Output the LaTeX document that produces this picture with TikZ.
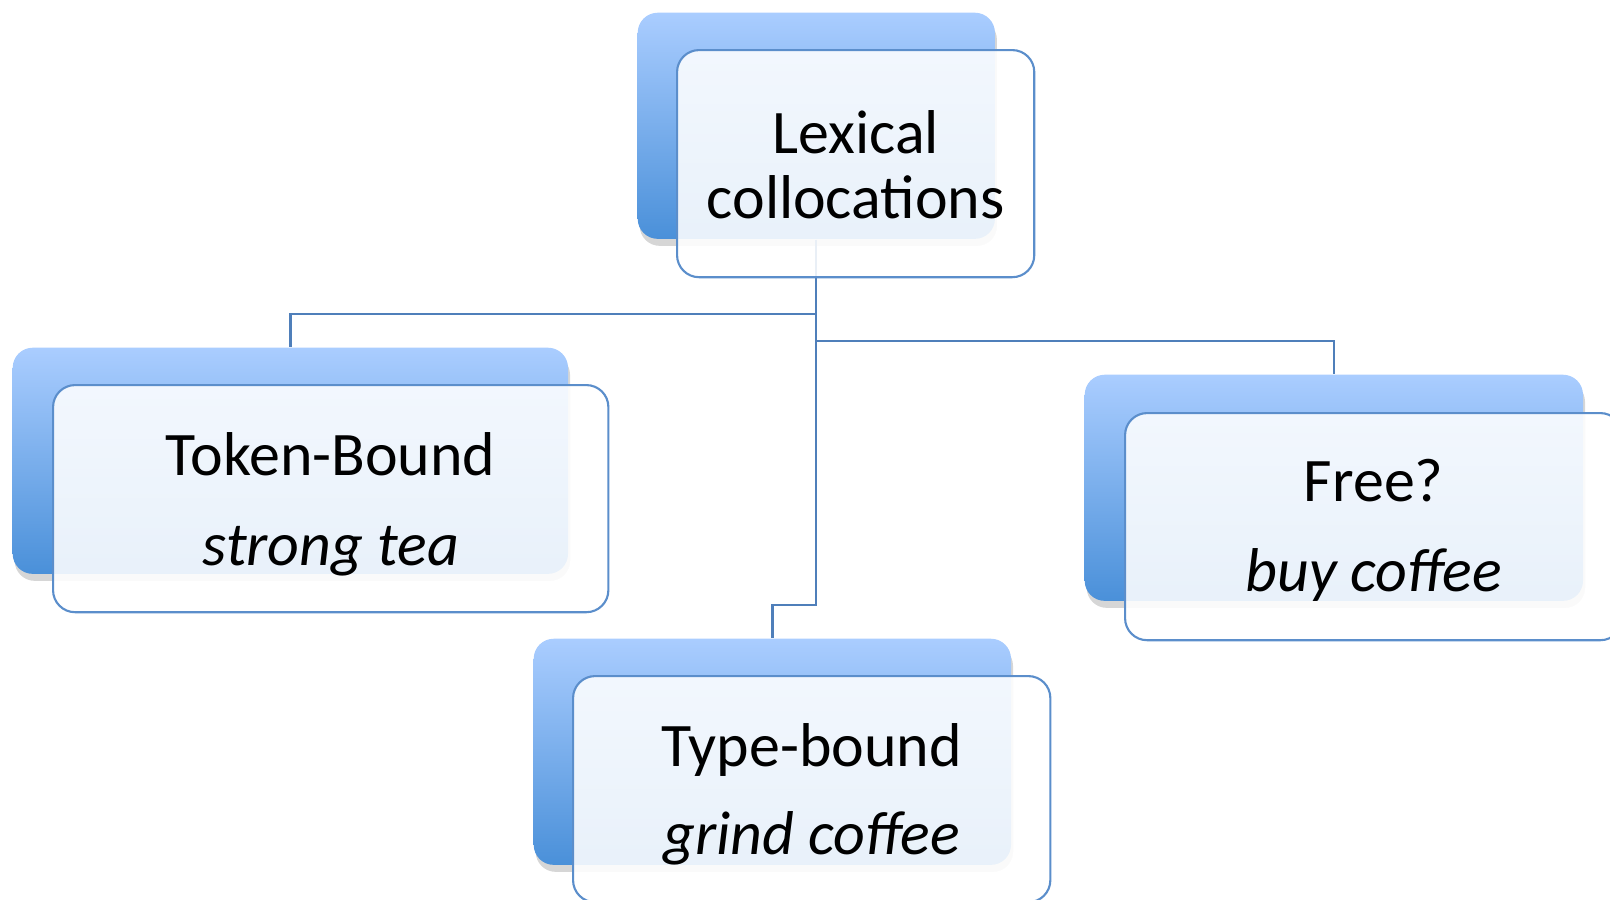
\documentclass[tikz,border=0pt]{standalone}
\usepackage{fontspec}
\setmainfont{Carlito}
\usetikzlibrary{positioning,shadows}
\definecolor{linkblue}{HTML}{4F7FBA}
\definecolor{edgeblue}{HTML}{5B8ECB}
\definecolor{backtop}{HTML}{AACDFF}
\definecolor{backbot}{HTML}{4A90D9}
\tikzset{
  backbox/.style={rounded corners=2mm, top color=backtop, bottom color=backbot, draw=none, inner sep=0pt,
    drop shadow={shadow xshift=0.2mm, shadow yshift=-0.7mm, opacity=0.16, fill=black}},
  frontbox/.style={rounded corners=2.2mm, draw=edgeblue, line width=0.6pt, fill=white, fill opacity=0.88, inner sep=0pt},
  conn/.style={draw=linkblue, line width=0.65pt},
  headtext/.style={font=\fontsize{17.6}{18.5}\selectfont, text=black, anchor=base, inner sep=0pt},
  exampletext/.style={font=\fontsize{17.6}{18.5}\selectfont\itshape, text=black, anchor=base, inner sep=0pt},
}

\begin{document}
\begin{tikzpicture}[x=0.01cm, y=-0.01cm]
\useasboundingbox (0,0) rectangle (1610,899);

% -----------------------------------------------------------------------------
% back panels (gradient)
% -----------------------------------------------------------------------------
\node[backbox, minimum width=3.57cm, minimum height=2.26cm, anchor=north west] (lexback) at (637,12) {};
\node[backbox, minimum width=5.55cm, minimum height=2.26cm, anchor=north west] (tokenback) at (12,347) {};
\node[backbox, minimum width=4.77cm, minimum height=2.26cm, anchor=north west] (typeback) at (533,638) {};
\node[backbox, minimum width=4.98cm, minimum height=2.26cm, anchor=north west] (freeback) at (1084,374) {};

% -----------------------------------------------------------------------------
% connectors
% -----------------------------------------------------------------------------
\coordinate (leftbus) at (0,314);
\coordinate (rightbus) at (0,341);
\coordinate (lowbus) at (0,605);
\draw[conn] (lexback.south) -- (lexback.south |- leftbus) -| (tokenback.north);
\draw[conn] (lexback.south) -- (lexback.south |- rightbus) -| (freeback.north);
\draw[conn] (lexback.south) -- (lexback.south |- lowbus) -| (typeback.north);

% -----------------------------------------------------------------------------
% front panels
% -----------------------------------------------------------------------------
\node[frontbox, minimum width=3.57cm, minimum height=2.27cm, anchor=north west] (lexfront) at (676,49) {};
\node[frontbox, minimum width=5.55cm, minimum height=2.27cm, anchor=north west] (tokenfront) at (52,384) {};
\node[frontbox, minimum width=4.77cm, minimum height=2.26cm, anchor=north west] (typefront) at (572,675) {};
\node[frontbox, minimum width=4.97cm, minimum height=2.27cm, anchor=north west] (freefront) at (1124,412) {};

% labels
\node[headtext] (lexline1) at (lexfront.center |- 0,153) {Lexical};
\node[headtext] (lexline2) at (lexfront.center |- 0,218) {collocations};
\node[headtext] (tokenlabel) at (tokenfront.center |- 0,475) {Token-Bound};
\node[exampletext] (tokenex) at (tokenfront.center |- 0,565) {strong tea};
\node[headtext] (typelabel) at (typefront.center |- 0,766) {Type-bound};
\node[exampletext] (typeex) at (typefront.center |- 0,854) {grind coffee};
\node[headtext] (freelabel) at (freefront.center |- 0,501) {Free?};
\node[exampletext] (freeex) at (freefront.center |- 0,591) {buy coffee};

\end{tikzpicture}
\end{document}
